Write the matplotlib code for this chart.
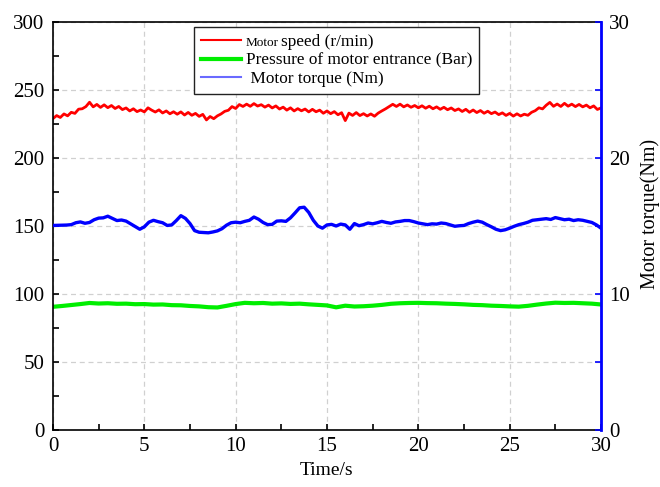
import matplotlib
matplotlib.use('Agg')
import matplotlib.pyplot as plt
from matplotlib.lines import Line2D
from matplotlib.ticker import MultipleLocator
import numpy as np

plt.rcParams['font.family'] = 'Liberation Serif'
plt.rcParams['font.size'] = 14

# Motor speed (r/min), sampled every 0.2 s
speed = [
    229.0, 231.2, 229.8, 232.4, 231.0, 233.6, 232.8, 235.9, 236.2, 237.8,
    241.0, 237.6, 239.4, 237.2, 239.1, 237.0, 238.6, 236.4, 237.9, 235.6,
    236.8, 234.6, 236.2, 234.1, 235.3, 233.9, 236.9, 235.2, 233.8, 235.4,
    233.1, 234.6, 232.5, 234.0, 232.2, 233.9, 231.6, 233.5, 231.4, 232.8,
    230.6, 232.1, 228.0, 230.5, 228.9, 231.0, 232.4, 234.3, 235.1, 237.8,
    236.4, 239.3, 237.9, 239.6, 238.0, 240.0, 238.2, 239.2, 237.4, 238.9,
    236.8, 238.3, 236.0, 237.4, 235.2, 236.9, 234.6, 236.3, 234.7, 236.0,
    233.9, 235.8, 234.0, 235.2, 232.9, 234.6, 232.6, 234.1, 231.8, 233.3,
    227.5, 233.0, 231.3, 233.4, 231.2, 232.6, 230.9, 232.4, 230.7, 233.0,
    234.6, 236.1, 237.8, 239.5, 237.9, 239.6, 237.6, 239.0, 237.3, 238.6,
    236.9, 238.4, 236.6, 238.1, 236.2, 237.6, 235.8, 237.3, 235.5, 236.8,
    234.9, 236.1, 234.2, 235.8, 233.6, 235.3, 233.4, 234.9, 232.9, 234.4,
    232.6, 233.8, 231.9, 233.2, 231.3, 232.8, 230.8, 232.5, 230.9, 232.2,
    231.4, 233.6, 234.8, 236.9, 236.1, 238.8, 240.9, 238.0, 239.7, 237.9,
    240.2, 238.1, 239.6, 237.8, 239.4, 237.6, 238.9, 236.9, 238.3, 235.7,
    236.8,
]

# Pressure of motor entrance (Bar), every 0.5 s
pressure = [
    90.6, 91.2, 91.9, 92.6, 93.4, 93.0, 93.2, 92.8, 92.9, 92.5,
    92.6, 92.2, 92.3, 91.8, 91.7, 91.2, 90.9, 90.3, 90.1, 91.3,
    92.6, 93.5, 93.2, 93.4, 92.9, 93.1, 92.7, 92.9, 92.4, 92.0,
    91.6, 90.2, 91.4, 90.8, 91.0, 91.4, 92.0, 92.8, 93.2, 93.4,
    93.5, 93.3, 93.2, 92.9, 92.7, 92.4, 92.0, 91.8, 91.4, 91.2,
    90.9, 90.7, 91.3, 92.2, 93.0, 93.6, 93.4, 93.5, 93.2, 92.9,
    92.3,
]

# Motor torque (Nm), every 0.25 s
torque = [
    15.04, 15.05, 15.06, 15.07, 15.10, 15.24, 15.30, 15.20, 15.26, 15.46,
    15.58, 15.60, 15.72, 15.56, 15.40, 15.44, 15.36, 15.16, 14.96, 14.76,
    14.94, 15.28, 15.42, 15.32, 15.24, 15.04, 15.08, 15.40, 15.76, 15.56,
    15.18, 14.66, 14.54, 14.52, 14.50, 14.56, 14.64, 14.80, 15.06, 15.24,
    15.28, 15.24, 15.34, 15.42, 15.66, 15.50, 15.26, 15.10, 15.12, 15.36,
    15.38, 15.34, 15.60, 15.96, 16.34, 16.38, 16.00, 15.42, 15.00, 14.84,
    15.08, 15.12, 15.00, 15.14, 15.08, 14.76, 15.18, 15.02, 15.10, 15.22,
    15.16, 15.24, 15.34, 15.26, 15.20, 15.30, 15.34, 15.40, 15.40, 15.32,
    15.22, 15.16, 15.10, 15.16, 15.14, 15.22, 15.18, 15.08, 14.98, 15.02,
    15.04, 15.18, 15.28, 15.36, 15.28, 15.10, 14.94, 14.76, 14.66, 14.72,
    14.84, 14.98, 15.10, 15.18, 15.28, 15.42, 15.46, 15.50, 15.54, 15.48,
    15.62, 15.54, 15.46, 15.50, 15.40, 15.46, 15.42, 15.34, 15.26, 15.08,
    14.84,
]

t_speed = np.linspace(0, 30, len(speed))
t_pressure = np.linspace(0, 30, len(pressure))
t_torque = np.linspace(0, 30, len(torque))

fig = plt.figure(figsize=(6.6, 4.87), dpi=100)
ax = fig.add_axes([53/660, 1 - 430/487, 548/660, 408/487])
ax2 = ax.twinx()

ax.plot(t_speed, speed, color='#ff0000', lw=2.0)
ax.plot(t_pressure, pressure, color='#00ee00', lw=3)
ax2.plot(t_torque, torque, color='#0000ff', lw=2.4)

ax.set_xlim(0, 30)
ax.set_ylim(0, 300)
ax2.set_ylim(0, 30)

ax.xaxis.set_major_locator(MultipleLocator(5))
ax.xaxis.set_minor_locator(MultipleLocator(2.5))
ax.yaxis.set_major_locator(MultipleLocator(50))
ax.yaxis.set_minor_locator(MultipleLocator(25))
ax2.yaxis.set_major_locator(MultipleLocator(10))
ax2.yaxis.set_minor_locator(MultipleLocator(5))

ax.grid(True, which='major', color='#d0d0d0', ls=(0, (4, 3)), lw=0.9)
ax.set_axisbelow(True)

for s in ['left', 'bottom', 'top']:
    ax.spines[s].set_linewidth(1.2)
ax2.spines['right'].set_color('#0000ff')
ax2.spines['right'].set_linewidth(2)
for s in ['left', 'bottom', 'top']:
    ax2.spines[s].set_visible(False)

ax.tick_params(axis='both', which='both', direction='in', length=4, width=1.2,
               labelsize=15, top=False, right=False)
ax.tick_params(axis='y', pad=6)
ax.tick_params(axis='x', pad=5)
ax2.tick_params(axis='y', which='both', direction='in', length=4, width=1.2,
                color='#0000ff', labelcolor='black', labelsize=15, pad=6)

ax.set_xlabel('Time/s', fontsize=14)
ax.xaxis.set_label_coords(0.5, -0.078)
ax2.set_ylabel('Motor torque(Nm)', fontsize=14.5)
ax2.yaxis.set_label_coords(1.072, 0.53)

handles = [
    Line2D([], [], color='#ff0000', lw=1.5),
    Line2D([], [], color='#00ee00', lw=3),
    Line2D([], [], color='#6a6aff', lw=1.5),
]
labels = ['        speed (r/min)', 'Pressure of motor entrance (Bar)',
          ' Motor torque (Nm)']
leg = ax.legend(handles, labels, loc='upper left',
                bbox_to_anchor=((194-53)/548, (430-27)/408),
                borderaxespad=0, fontsize=12.4, frameon=True, fancybox=False,
                edgecolor='#222222', framealpha=1, handlelength=2.3,
                handletextpad=0.3, labelspacing=0.15, borderpad=0.4)
leg.get_frame().set_linewidth(1.0)

ax.annotate('Motor', xy=(0, 0.22), xycoords=leg.get_texts()[0],
            ha='left', va='baseline', fontsize=9.5, zorder=10)

fig.savefig('out.png', dpi=100)
